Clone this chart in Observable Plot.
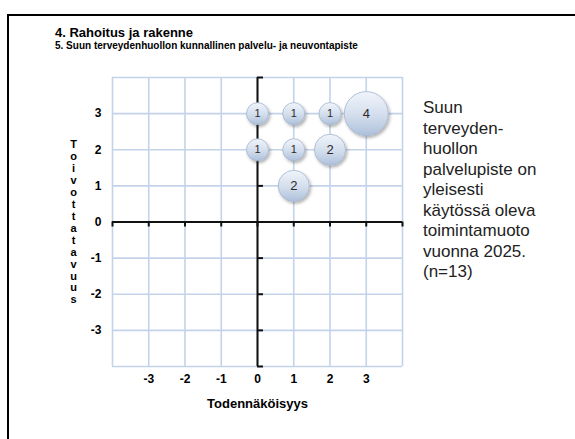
<!DOCTYPE html>
<html><head><meta charset="utf-8">
<script src="https://cdn.jsdelivr.net/npm/d3@7"></script>
<script src="https://cdn.jsdelivr.net/npm/@observablehq/plot@0.6"></script>
<style>
body{margin:0;background:#fff;font-family:"Liberation Sans",Arial,sans-serif}
#page{position:relative;width:575px;height:439px;overflow:hidden;background:#fff}
#frame{position:absolute;left:7px;top:14px;width:620px;height:500px;border:2px solid #000;box-sizing:border-box}
#title{position:absolute;left:55px;top:25px;font-size:13px;line-height:15px;font-weight:bold;color:#000;white-space:nowrap}
#subtitle{position:absolute;left:55px;top:40px;font-size:10px;line-height:11px;font-weight:bold;color:#000;white-space:nowrap}
#note{position:absolute;left:423px;top:98px;font-size:17px;line-height:20.5px;color:#222;white-space:pre}
#chart{position:absolute;left:0;top:0}
</style></head>
<body><div id="page"><div id="frame"></div><div id="chart"></div>
<div id="title"></div><div id="subtitle"></div><div id="note"></div></div>
<script>
const titleText = "4. Rahoitus ja rakenne";
const subtitleText = "5. Suun terveydenhuollon kunnallinen palvelu- ja neuvontapiste";
const noteLines = ["Suun","terveyden-","huollon","palvelupiste on","yleisesti","käytössä oleva","toimintamuoto","vuonna 2025.","(n=13)"];
const xLabel = "Todennäköisyys";
const yLabel = "Toivottatavuus";
// bubbles: probability (x), desirability (y), count
const xVals = [0, 1, 2, 3, 0, 1, 2, 1];
const yVals = [3, 3, 3, 3, 2, 2, 2, 1];
const counts = [1, 1, 1, 4, 1, 1, 2, 2];
const tickVals = [-3, -2, -1, 0, 1, 2, 3];
const gridVals = [-4, -3, -2, -1, 0, 1, 2, 3, 4];

document.getElementById("title").textContent = titleText;
document.getElementById("subtitle").textContent = subtitleText;
document.getElementById("note").textContent = noteLines.join("\n");

const data = xVals.map((x, i) => ({x, y: yVals[i], n: counts[i]}));
const fmt = d => `${d}`;

const plot = Plot.plot({
  width: 575, height: 439,
  marginLeft: 112, marginRight: 173, marginTop: 77, marginBottom: 73,
  style: {fontFamily: "Liberation Sans, Arial, sans-serif", background: "transparent"},
  x: {domain: [-4, 4]},
  y: {domain: [-4, 4]},
  r: {domain: [0, 4], range: [0, 22]},
  marks: [
    Plot.ruleX(gridVals, {stroke: "#c3d3e9", strokeWidth: 1.6}),
    Plot.ruleY(gridVals, {stroke: "#c3d3e9", strokeWidth: 1.6}),
    Plot.ruleX([0], {stroke: "#111", strokeWidth: 2}),
    Plot.ruleY([0], {stroke: "#111", strokeWidth: 2}),
    Plot.ruleX(gridVals, {y1: 0, y2: 0, insetBottom: -5, stroke: "#111", strokeWidth: 2}),
    Plot.ruleY(gridVals, {x1: 0, x2: 0, insetRight: -6, stroke: "#111", strokeWidth: 2}),
    Plot.dot(data, {x: "x", y: "y", r: "n", fill: "url(#bubGrad)", stroke: "#a3b5ce", strokeWidth: 0.8}),
    Plot.text(data, {x: "x", y: "y", text: "n", fontSize: d => d.n === 1 ? 11 : 13, fill: "#2a2a2a"}),
    Plot.axisX({ticks: tickVals, tickFormat: fmt, tickSize: 0, tickPadding: 8, fontSize: 12, fontWeight: "bold", label: null}),
    Plot.axisY({ticks: tickVals, tickFormat: fmt, tickSize: 0, tickPadding: 11, fontSize: 12, fontWeight: "bold", label: null}),
    Plot.text([xLabel], {frameAnchor: "bottom", dy: 37, lineAnchor: "middle", textAnchor: "middle", fontSize: 13, fontWeight: "bold"}),
    Plot.text([yLabel.split("").join("\n")], {frameAnchor: "left", dx: -39, lineAnchor: "middle", textAnchor: "middle", lineHeight: 1.085, fontSize: 11, fontWeight: "bold"})
  ]
});
plot.insertAdjacentHTML("afterbegin", `<defs>
<linearGradient id="bubGrad" x1="0" y1="0" x2="0" y2="1">
<stop offset="0" stop-color="#f1f5fb"/><stop offset="0.55" stop-color="#d2ddec"/><stop offset="1" stop-color="#adc0da"/>
</linearGradient>
<filter id="bubShadow" x="-30%" y="-30%" width="170%" height="170%">
<feDropShadow dx="1.5" dy="2" stdDeviation="1.5" flood-color="#000" flood-opacity="0.3"/>
</filter></defs>`);
const dotG = plot.querySelector('g[aria-label="dot"]');
if (dotG) dotG.setAttribute("filter", "url(#bubShadow)");
document.getElementById("chart").appendChild(plot);
</script></body></html>
